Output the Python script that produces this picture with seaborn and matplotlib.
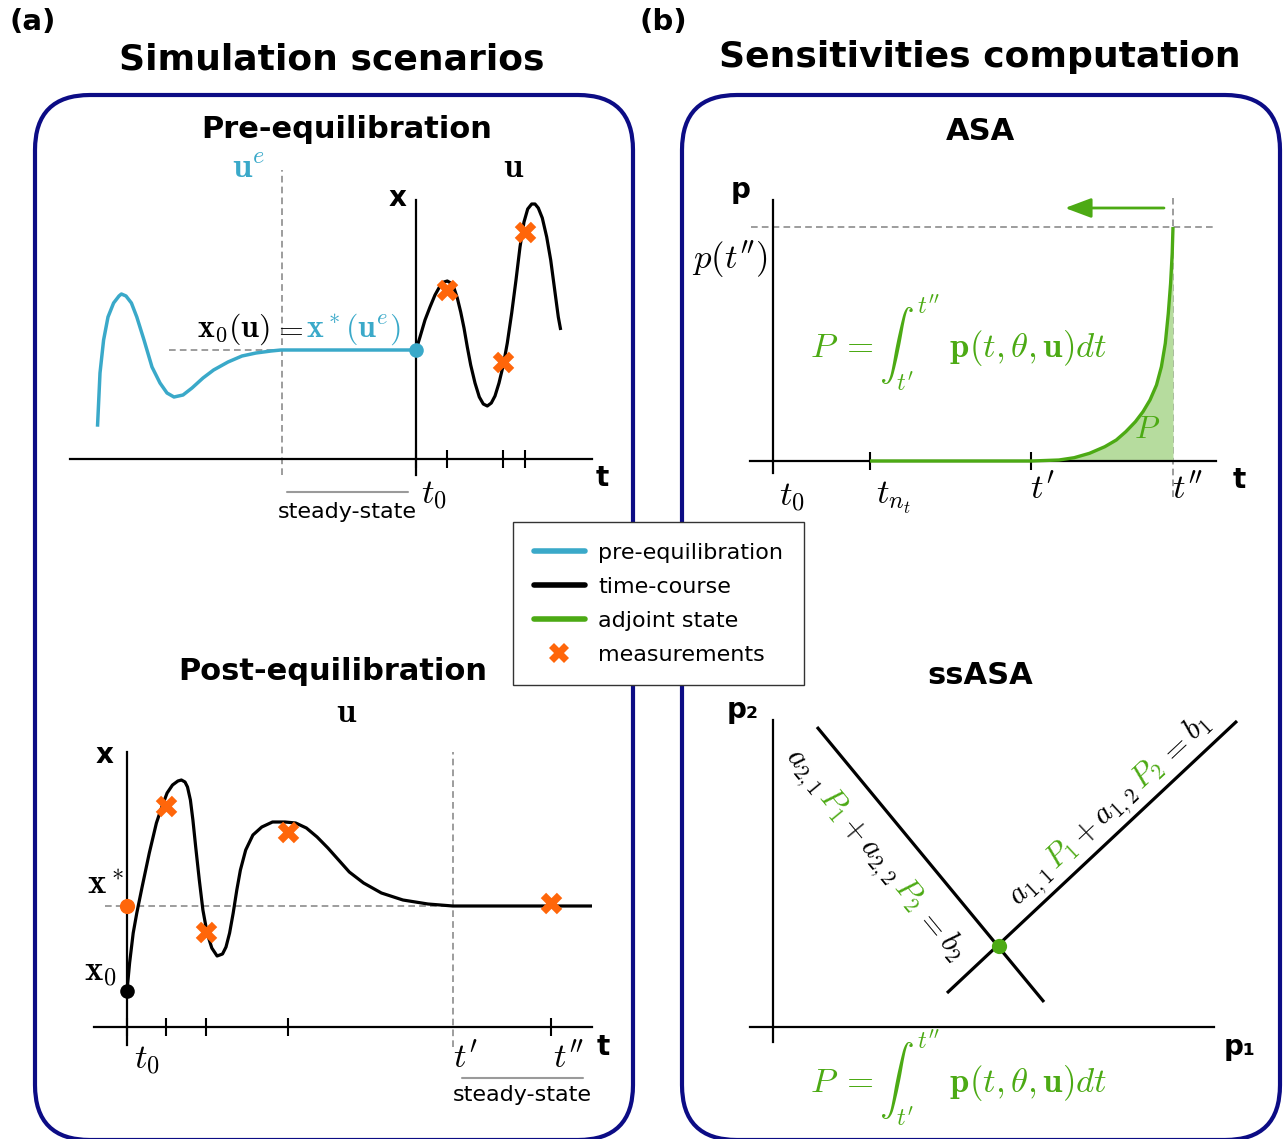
import numpy as np
import matplotlib
matplotlib.use('Agg')
import matplotlib.pyplot as plt
import seaborn as sns
from matplotlib.lines import Line2D
from matplotlib.patches import FancyBboxPatch

sns.set_theme(style='white')
plt.rcParams['font.family'] = ['DejaVu Sans']
plt.rcParams['mathtext.fontset'] = 'cm'
plt.rcParams['text.color'] = 'black'

CYAN = '#3aa9c9'
GREEN = '#4caa14'
FILL = '#b6dc9e'
ORANGE = '#ff660a'
NAVY = '#0c0c85'
GREY = '#8c8c8c'

#--------------------------------------------------------------------#
# dados (10 px por unidade, origem no cruzamento dos eixos)

# (a) pre-equilibration
pre_eq_t = [-31.85, -31.6, -31.24, -30.8, -30.24, -29.7, -29.46, -29.0, -28.46, -27.92, -27.2,
            -26.4, -25.6, -24.9, -24.2, -23.3, -22.4, -21.3, -20.24, -18.8, -17.4, -16.0,
            -14.5, -13.5, 0.0]
pre_eq_x = [3.23, 8.6, 11.9, 14.2, 15.6, 16.3, 16.5, 16.3, 15.6, 14.2, 11.9,
            9.2, 7.6, 6.6, 6.2, 6.4, 7.1, 8.1, 8.9, 9.7, 10.3, 10.6,
            10.8, 10.9, 10.9]
pre_tc_t = [0.0, 0.4, 0.9, 1.4, 1.9, 2.4, 2.8, 3.13, 3.47, 3.8, 4.13, 4.47, 4.8, 5.13,
            5.47, 5.9, 6.33, 6.73, 7.13, 7.53, 7.9, 8.3, 8.73, 9.13, 9.57, 10.0, 10.4,
            10.8, 11.17, 11.57, 11.9, 12.23, 12.63, 13.07, 13.47, 13.87, 14.23, 14.47]
pre_tc_x = [10.9, 12.2, 13.9, 15.2, 16.4, 17.3, 17.7, 17.8, 17.6, 17.1, 16.1, 14.7, 13.1, 11.2,
            9.4, 7.6, 6.2, 5.5, 5.3, 5.6, 6.3, 7.6, 9.4, 11.6, 14.6, 17.9, 21.2,
            23.7, 25.0, 25.5, 25.5, 25.1, 24.1, 22.2, 19.9, 16.9, 14.2, 12.9]
pre_meas_t = [3.1, 8.7, 10.9]
pre_meas_x = [16.9, 9.7, 22.7]
pre_x0 = 10.9
pre_ss_t = -13.4

# (a) post-equilibration
post_t = [0.0, 0.26, 0.62, 0.98, 1.51, 2.23, 2.94, 3.48, 4.01, 4.55, 5.09, 5.44, 5.8, 6.05,
          6.34, 6.59, 6.87, 7.23, 7.59, 8.01, 8.48, 9.01, 9.55, 9.9, 10.26, 10.62, 10.98,
          11.34, 11.87, 12.59, 13.48, 14.55, 15.8, 16.87, 17.94, 19.01, 20.09, 21.16, 22.23,
          23.66, 25.44, 27.59, 30.09, 32.59, 36.16, 46.5]
post_x = [3.6, 6.4, 9.4, 11.4, 14.0, 17.4, 20.4, 22.0, 23.4, 24.2, 24.6, 24.7, 24.5, 24.0,
          22.7, 20.7, 18.0, 14.7, 11.7, 9.4, 7.9, 7.1, 7.3, 8.0, 9.4, 11.4, 13.7,
          15.7, 17.7, 19.2, 20.0, 20.5, 20.5, 20.4, 19.9, 19.0, 17.9, 16.7, 15.5,
          14.4, 13.4, 12.7, 12.3, 12.1, 12.1, 12.1]
post_meas_t = [3.9, 7.9, 16.1, 42.4]
post_meas_x = [22.1, 9.5, 19.5, 12.4]
post_x0 = 3.6
post_xstar = 12.1
post_t1 = 32.6
post_t2 = 42.4

# (b) ASA
asa_t = [9.7, 25.83, 28.59, 30.12, 31.65, 33.18, 34.33, 35.28, 36.24, 37.0, 37.7, 38.35,
         38.84, 39.23, 39.53, 39.76, 39.92, 40.0]
asa_p = [0.0, 0.0, 0.1, 0.33, 0.77, 1.43, 2.1, 2.93, 3.93, 4.93, 6.1, 7.6,
         9.43, 11.77, 14.77, 17.77, 20.77, 23.4]
asa_tnt = 9.7
asa_t1 = 25.8
asa_t2 = 40.0

# (b) ssASA
eq1_p1 = [4.4, 27.1]
eq1_p2 = [30.0, 2.5]
eq2_p1 = [17.4, 46.4]
eq2_p2 = [3.4, 30.6]
sol_p1 = [22.6]
sol_p2 = [8.1]

#--------------------------------------------------------------------#
W, H = 1288, 1139
fig = plt.figure(figsize=(W / 100, H / 100), dpi=100)

# fundo: caixas e titulos (coordenadas em pixels)
bg = fig.add_axes([0, 0, 1, 1])
bg.set_xlim(0, W)
bg.set_ylim(H, 0)
bg.axis('off')
for x0 in [35, 682]:
    bg.add_patch(FancyBboxPatch((x0, 95), 598, 1045, boxstyle='round,pad=0,rounding_size=55',
                                fill=False, edgecolor=NAVY, lw=3, clip_on=False))
bg.text(33, 22, '(a)', fontsize=21, weight='bold', ha='center', va='center')
bg.text(663, 22, '(b)', fontsize=21, weight='bold', ha='center', va='center')
bg.text(332, 60, 'Simulation scenarios', fontsize=26, weight='bold', ha='center', va='center')
bg.text(980, 57, 'Sensitivities computation', fontsize=26, weight='bold', ha='center', va='center')
bg.text(347, 130, 'Pre-equilibration', fontsize=22, weight='bold', ha='center', va='center')
bg.text(333, 671, 'Post-equilibration', fontsize=22, weight='bold', ha='center', va='center')
bg.text(980, 132, 'ASA', fontsize=22, weight='bold', ha='center', va='center')
bg.text(980, 676, 'ssASA', fontsize=22, weight='bold', ha='center', va='center')


def panel(px0, py0, px1, py1, ox, oy, xb, yb, ticks):
    ax = fig.add_axes([px0 / W, 1 - py1 / H, (px1 - px0) / W, (py1 - py0) / H])
    ax.set_xlim((px0 - ox) / 10, (px1 - ox) / 10)
    ax.set_ylim((oy - py1) / 10, (oy - py0) / 10)
    ax.patch.set_alpha(0)
    for s in ['top', 'right']:
        ax.spines[s].set_visible(False)
    for s in ['left', 'bottom']:
        ax.spines[s].set_position(('data', 0))
        ax.spines[s].set_color('black')
        ax.spines[s].set_linewidth(1.6)
    ax.spines['bottom'].set_bounds(*xb)
    ax.spines['left'].set_bounds(*yb)
    ax.set_xticks(ticks)
    ax.set_yticks([])
    ax.tick_params(axis='x', bottom=True, direction='inout', length=13, width=1.5,
                   color='black', labelbottom=False)
    return ax


def dashed(ax, xs, ys):
    ax.plot(xs, ys, color=GREY, lw=1.2, ls=(0, (4, 2.5)), zorder=1, clip_on=False)


def label(ax, x, y, s, size=25, color='black', **kw):
    ax.text(x, y, s, fontsize=size, color=color, ha='center', va='center', clip_on=False, **kw)


def rich_label(ax, foot, angle, off, pieces, size, gap=4):
    r = fig.canvas.get_renderer()
    widths = []
    for s, c in pieces:
        tmp = ax.text(0, 0, s, fontsize=size)
        widths.append(tmp.get_window_extent(renderer=r).width)
        tmp.remove()
    total = sum(widths) + gap * (len(pieces) - 1)
    a = np.deg2rad(angle)
    d = np.array([np.cos(a), np.sin(a)])
    n = np.array([-np.sin(a), np.cos(a)])
    start = ax.transData.transform(foot) + off * n - total / 2 * d
    inv = ax.transData.inverted()
    pos = 0
    for (s, c), w in zip(pieces, widths):
        xy = inv.transform(start + pos * d)
        ax.text(xy[0], xy[1], s, color=c, fontsize=size, rotation=angle,
                rotation_mode='anchor', ha='left', va='baseline', clip_on=False)
        pos += w + gap


def crosses(ax, t, x):
    sns.scatterplot(x=t, y=x, ax=ax, marker='X', s=240, color=ORANGE, linewidth=0, zorder=6)


def curve(ax, t, x, color, lw=2.3):
    sns.lineplot(x=t, y=x, ax=ax, color=color, lw=lw, sort=False, estimator=None, zorder=4,
                 solid_joinstyle='round', solid_capstyle='butt')


#--------------------------------------------------------------------#
# (a) Pre-equilibration
ax1 = panel(60, 140, 620, 540, 416, 459, (-34.6, 17.6), (-1.6, 25.9), [0, *pre_meas_t])
dashed(ax1, [pre_ss_t, pre_ss_t], [-1.6, 28.9])
dashed(ax1, [-24.7, pre_ss_t], [pre_x0, pre_x0])
curve(ax1, pre_eq_t, pre_eq_x, CYAN, 2.5)
curve(ax1, pre_tc_t, pre_tc_x, 'black')
sns.scatterplot(x=[0], y=[pre_x0], ax=ax1, color=CYAN, s=110, linewidth=0, zorder=5)
crosses(ax1, pre_meas_t, pre_meas_x)
ax1.plot([-12.9, -0.8], [-3.3, -3.3], color='#9a9a9a', lw=1.5, clip_on=False)
label(ax1, -6.9, -5.3, 'steady-state', size=16)
label(ax1, 1.8, -3.6, '$t_0$')
label(ax1, 18.6, -1.9, 't', size=20, weight='bold')
label(ax1, -1.8, 26.1, 'x', size=20, weight='bold')
label(ax1, -16.7, 29.2, r'$\mathbf{u}^e$', color=CYAN)
label(ax1, 9.8, 29.2, r'$\mathbf{u}$')
rich_label(ax1, (-11.7, 12.2), 0, 0,
           [(r'$\mathbf{x}_0(\mathbf{u})$', 'black'), ('$=$', 'black'),
            (r'$\mathbf{x}^*(\mathbf{u}^e)$', CYAN)], 23, gap=3)

# (a) Post-equilibration
ax2 = panel(60, 690, 620, 1130, 127, 1027, (-3.3, 46.5), (-1.8, 27.5), [0, *post_meas_t])
dashed(ax2, [-2.2, 46.5], [post_xstar, post_xstar])
dashed(ax2, [post_t1, post_t1], [-2.0, 27.5])
curve(ax2, post_t, post_x, 'black')
sns.scatterplot(x=[0], y=[post_xstar], ax=ax2, color=ORANGE, s=120, linewidth=0, zorder=5)
sns.scatterplot(x=[0], y=[post_x0], ax=ax2, color='black', s=110, linewidth=0, zorder=5)
crosses(ax2, post_meas_t, post_meas_x)
ax2.plot([33.5, 45.6], [-5.1, -5.1], color='#9a9a9a', lw=1.5, clip_on=False)
label(ax2, 39.5, -6.8, 'steady-state', size=16)
label(ax2, 2.0, -3.3, '$t_0$')
label(ax2, 33.8, -3.0, r'$t^{\prime}$')
label(ax2, 44.2, -3.0, r'$t^{\prime\prime}$')
label(ax2, 47.6, -2.0, 't', size=20, weight='bold')
label(ax2, -2.2, 27.2, 'x', size=20, weight='bold')
label(ax2, -2.2, 14.2, r'$\mathbf{x}^*$')
label(ax2, -2.6, 5.5, r'$\mathbf{x}_0$')
label(ax2, 22.0, 31.5, r'$\mathbf{u}$')

# (b) ASA
ax3 = panel(690, 150, 1280, 520, 773, 461, (-2.3, 44.3), (-1.2, 26.1), [asa_tnt, asa_t1])
dashed(ax3, [-2.2, 44.3], [asa_p[-1], asa_p[-1]])
dashed(ax3, [asa_t2, asa_t2], [-3.6, 26.3])
ax3.fill_between(asa_t[1:], 0, asa_p[1:], color=FILL, lw=0, zorder=2)
curve(ax3, asa_t, asa_p, GREEN, 2.4)
ax3.annotate('', xy=(29.2, 25.3), xytext=(39.1, 25.3),
             arrowprops=dict(arrowstyle='-|>,head_length=0.8,head_width=0.3', color=GREEN,
                             lw=2, mutation_scale=20, shrinkA=0, shrinkB=0))
label(ax3, -3.2, 27.1, 'p', size=20, weight='bold')
label(ax3, -4.3, 20.1, r'$p(t^{\prime\prime})$')
label(ax3, 1.9, -3.6, '$t_0$')
label(ax3, 12.0, -3.7, '$t_{n_t}$')
label(ax3, 26.9, -2.7, r'$t^{\prime}$')
label(ax3, 41.5, -2.7, r'$t^{\prime\prime}$')
label(ax3, 46.6, -1.9, 't', size=20, weight='bold')
label(ax3, 37.4, 3.1, '$P$', size=23, color=GREEN)
formula = r'$P\;=\int_{t^{\prime}}^{t^{\prime\prime}}\ \mathbf{p}(t, \theta, \mathbf{u})dt$'
label(ax3, 18.6, 11.8, formula, color=GREEN)

# (b) ssASA
ax4 = panel(690, 690, 1280, 1130, 773, 1027, (-2.3, 44.1), (-1.5, 30.7), [])
ax4.tick_params(axis='x', bottom=False)
curve(ax4, eq1_p1, eq1_p2, 'black')
curve(ax4, eq2_p1, eq2_p2, 'black')
sns.scatterplot(x=sol_p1, y=sol_p2, ax=ax4, color=GREEN, s=120, linewidth=0, zorder=5)
label(ax4, -3.0, 31.7, 'p₂', size=20, weight='bold')
label(ax4, 46.7, -2.0, 'p₁', size=20, weight='bold')
label(ax4, 18.6, -5.1, formula, color=GREEN)


def line_angle(ax, xs, ys):
    a = ax.transData.transform((xs[0], ys[0]))
    b = ax.transData.transform((xs[1], ys[1]))
    return np.degrees(np.arctan2(b[1] - a[1], b[0] - a[0]))


rich_label(ax4, (13.0, 19.6), line_angle(ax4, eq1_p1, eq1_p2), -44,
           [('$a_{2,1}$', 'black'), ('$P_1$', GREEN), ('$+$', 'black'),
            ('$a_{2,2}$', 'black'), ('$P_2$', GREEN), ('$=$', 'black'), ('$b_2$', 'black')], 22, gap=5)
rich_label(ax4, (35.2, 20.0), line_angle(ax4, eq2_p1, eq2_p2), 15,
           [('$a_{1,1}$', 'black'), ('$P_1$', GREEN), ('$+$', 'black'),
            ('$a_{1,2}$', 'black'), ('$P_2$', GREEN), ('$=$', 'black'), ('$b_1$', 'black')], 22, gap=5)

for ax in [ax1, ax2, ax3, ax4]:
    ax.set_xlabel('')
    ax.set_ylabel('')

# legenda
handles = [Line2D([], [], color=CYAN, lw=4), Line2D([], [], color='black', lw=4),
           Line2D([], [], color=GREEN, lw=4),
           Line2D([], [], color=ORANGE, marker='X', ls='none', markersize=14, markeredgewidth=0)]
fig.legend(handles, ['pre-equilibration', 'time-course', 'adjoint state', 'measurements'],
           loc='upper left', bbox_to_anchor=(513 / W, 1 - 522 / H), fontsize=16,
           frameon=True, fancybox=False, framealpha=1, edgecolor='#333333',
           borderaxespad=0, borderpad=0.93, handlelength=2.3, handletextpad=0.6,
           labelspacing=0.63)

plt.savefig('out.png', dpi=100)
